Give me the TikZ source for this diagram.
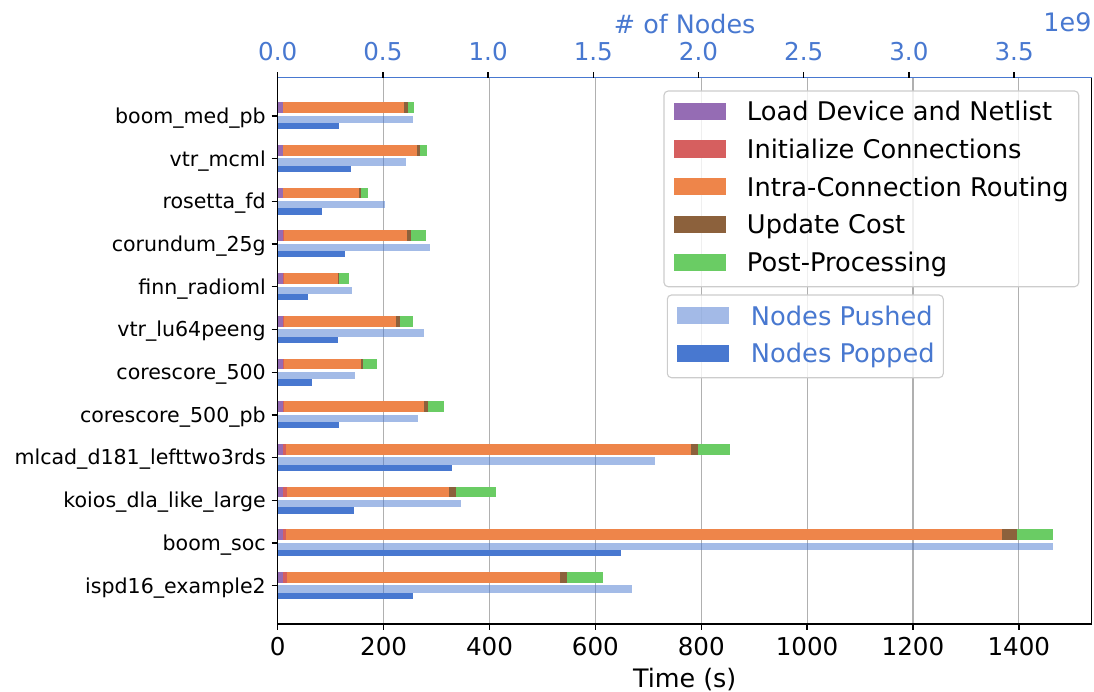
\documentclass[tikz,border=0pt]{standalone}
\usepackage{fontspec}
\setmainfont{DejaVu Sans}
\definecolor{mpurple}{HTML}{956CB4}
\definecolor{mred}{HTML}{D65F5F}
\definecolor{morange}{HTML}{EE854A}
\definecolor{mbrown}{HTML}{8C613C}
\definecolor{mgreen}{HTML}{6ACC64}
\definecolor{mblue}{HTML}{4878D0}
\definecolor{gridgray}{HTML}{B0B0B0}
\definecolor{framegray}{HTML}{CCCCCC}
\begin{document}
\begin{tikzpicture}[x=0.72pt,y=-0.72pt,
  declare function={tx(\s)=277.7+0.5294*\s; nx(\m)=277.7+210.4*\m;},
  catlabel/.style={font=\fontsize{14.8}{17}\selectfont, anchor=base east, inner sep=0pt},
  ticklabel/.style={font=\fontsize{17.7}{21}\selectfont, anchor=base, inner sep=0pt},
  toplabel/.style={ticklabel, text=mblue},
  axislabel/.style={font=\fontsize{18.3}{22}\selectfont, anchor=base, inner sep=0pt},
  legtext/.style={font=\fontsize{18.5}{22}\selectfont, anchor=base west, inner sep=0pt},
  legframe/.style={draw=framegray, line width=0.8pt, fill=white, fill opacity=0.8, rounded corners=3pt},
  spine/.style={line width=1pt, line cap=rect},
  tickmark/.style={line width=1pt},
  gridline/.style={draw=gridgray, line width=0.85pt},
  pushed/.style={fill=mblue, fill opacity=0.5},
  popped/.style={fill=mblue},
]
\useasboundingbox (0,0) rectangle (1094,692);

% axes corners
\coordinate (TL) at (277.7,77.7);
\coordinate (TR) at (1091.7,77.7);
\coordinate (BL) at (277.7,624);
\coordinate (BR) at (1091.7,624);

% vertical grid of the time axis
\foreach \t in {200,400,...,1400}
  \draw[gridline] ({tx(\t)},77.7) -- ({tx(\t)},624);

% per design: cumulative stage end times (s) and nodes pushed / popped (1e9)
\foreach \i/\name/\tL/\tI/\tR/\tU/\tP/\nU/\nD in {
  0/boom\_med\_pb/9.4/10.6/238.6/245.4/257.5/0.643/0.291,
  1/vtr\_mcml/9.4/10.6/263.1/268.8/282.0/0.610/0.348,
  2/rosetta\_fd/9.4/10.6/153.6/157.3/170.6/0.512/0.211,
  3/corundum\_25g/9.4/11.9/244.2/251.8/280.1/0.724/0.320,
  4/finn\_radioml/9.4/11.0/113.9/116.7/134.7/0.353/0.144,
  5/vtr\_lu64peeng/9.4/11.9/223.5/231.0/256.5/0.694/0.286,
  6/corescore\_500/9.4/11.9/157.3/161.1/187.6/0.367/0.161,
  7/corescore\_500\_pb/9.4/11.9/276.4/283.9/314.1/0.667/0.291,
  8/mlcad\_d181\_lefttwo3rds/9.4/16.4/780.3/794.7/854.4/1.793/0.827,
  9/koios\_dla\_like\_large/10.6/18.1/322.8/336.0/412.9/0.869/0.363,
  10/boom\_soc/9.4/15.7/1368.7/1395.9/1463.9/3.683/1.632,
  11/ispd16\_example2/10.6/18.1/533.2/546.5/614.5/1.682/0.641}{
  \pgfmathsetmacro\yc{116+42.7*\i}
  \pgfmathsetmacro\yA{\yc-13.7}
  \pgfmathsetmacro\yB{\yc-3}
  \pgfmathsetmacro\yC{\yc-0.3}
  \pgfmathsetmacro\yD{\yc+7}
  \pgfmathsetmacro\yE{\yc+13.3}
  \pgfmathsetmacro\yL{\yc+7.3}
  \fill[mpurple] ({tx(0)},\yA) rectangle ({tx(\tL)},\yB);
  \fill[mred] ({tx(\tL)},\yA) rectangle ({tx(\tI)},\yB);
  \fill[morange] ({tx(\tI)},\yA) rectangle ({tx(\tR)},\yB);
  \fill[mbrown] ({tx(\tR)},\yA) rectangle ({tx(\tU)},\yB);
  \fill[mgreen] ({tx(\tU)},\yA) rectangle ({tx(\tP)},\yB);
  \fill[pushed] ({nx(0)},\yC) rectangle ({nx(\nU)},\yD);
  \fill[popped] ({nx(0)},\yD) rectangle ({nx(\nD)},\yE);
  \draw[tickmark] (271.7,\yc) -- (277.7,\yc);
  \node[catlabel] (cat\i) at (266,\yL) {\name};
}

% spines
\draw[spine] (TL) -- (BL) -- (BR) -- (TR);
\draw[spine, mblue] (TL) -- (TR);

% bottom axis: time
\foreach \t in {0,200,...,1400}{
  \draw[tickmark] ({tx(\t)},624) -- ({tx(\t)},629.6);
  \node[ticklabel] (bt\t) at ({tx(\t)},655) {\t};
}
\node[axislabel] (xlabel) at (684.7,687) {Time (s)};

% top axis: nodes
\foreach \k/\m/\lab in {0/0/0.0,1/0.5/0.5,2/1/1.0,3/1.5/1.5,4/2/2.0,5/2.5/2.5,6/3/3.0,7/3.5/3.5}{
  \draw[tickmark] ({nx(\m)},77.7) -- ({nx(\m)},72.1);
  \node[toplabel] (tt\k) at ({nx(\m)},60.5) {\lab};
}
\node[axislabel, text=mblue] (toplab) at (684.7,33) {\# of Nodes};
\node[axislabel, anchor=base east, text=mblue] (expo) at (1091.7,31) {1e9};

% legend of stages
\draw[legframe] (664,91) rectangle (1078.7,286.7);
\foreach \k/\c/\txt in {0/mpurple/Load Device and Netlist,
                        1/mred/Initialize Connections,
                        2/morange/Intra-Connection Routing,
                        3/mbrown/Update Cost,
                        4/mgreen/Post-Processing}{
  \pgfmathsetmacro\yc{111.3+37.75*\k}
  \fill[\c] (674,\yc-8.65) rectangle (725.7,\yc+8.65);
  \node[legtext] (leg\k) at (746.7,\yc+9.4) {\txt};
}

% legend of node counts
\draw[legframe] (667.3,295) rectangle (943.3,377.7);
\fill[pushed] (677.3,306.8) rectangle (728.7,324.2);
\node[legtext, text=mblue] (legU) at (750.7,325) {Nodes Pushed};
\fill[popped] (677.3,344.6) rectangle (728.7,362);
\node[legtext, text=mblue] (legD) at (750.7,362.8) {Nodes Popped};
\end{tikzpicture}
\end{document}
